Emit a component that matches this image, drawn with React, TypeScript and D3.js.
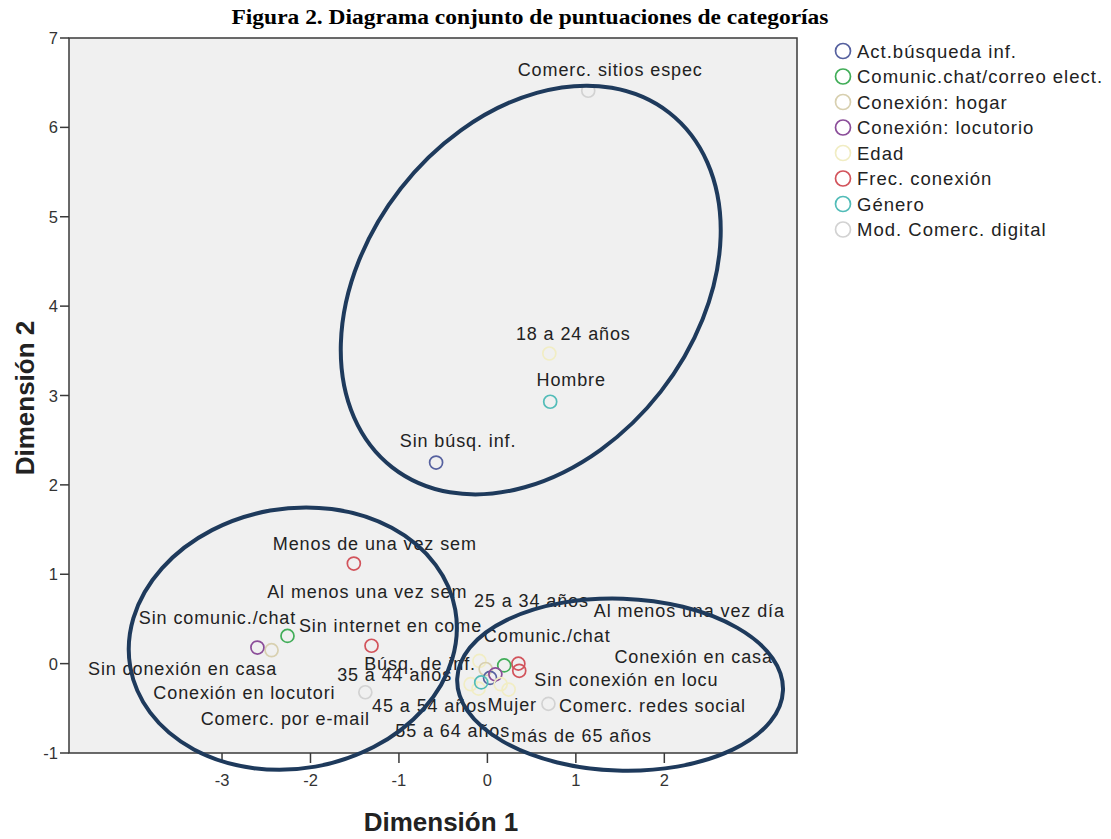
import * as d3 from 'd3';

// legend groups (variables)
const groups = [
  'Act.búsqueda inf.',
  'Comunic.chat/correo elect.',
  'Conexión: hogar',
  'Conexión: locutorio',
  'Edad',
  'Frec. conexión',
  'Género',
  'Mod. Comerc. digital',
];

// category points
const categories = [
  'Comerc. sitios espec', '18 a 24 años', 'Hombre', 'Sin búsq. inf.',
  'Menos de una vez sem', 'Al menos una vez sem', '25 a 34 años', 'Al menos una vez día',
  'Sin comunic./chat', 'Sin internet en come', 'Comunic./chat', 'Conexión en casa',
  'Búsq. de inf.', 'Sin conexión en casa', '35 a 44 años', 'Sin conexión en locu',
  'Conexión en locutori', '45 a 54 años', 'Mujer', 'Comerc. redes social',
  'Comerc. por e-mail', '55 a 64 años', 'más de 65 años',
];
const categoryGroup = [
  7, 4, 6, 0,
  5, 5, 4, 5,
  1, 5, 1, 2,
  0, 2, 4, 3,
  3, 4, 6, 7,
  7, 4, 4,
];
const dim1 = [
  1.14, 0.70, 0.71, -0.58,
  -1.51, 0.36, -0.09, 0.35,
  -2.26, -1.31, 0.19, -0.02,
  0.03, -2.44, -0.19, 0.09,
  -2.60, -0.10, -0.07, 0.69,
  -1.38, 0.15, 0.24,
];
const dim2 = [
  6.41, 3.47, 2.93, 2.25,
  1.12, -0.08, 0.03, 0.0,
  0.31, 0.2, -0.02, -0.06,
  -0.16, 0.15, -0.23, -0.12,
  0.18, -0.28, -0.21, -0.45,
  -0.32, -0.23, -0.29,
];

const xTicks = [-3, -2, -1, 0, 1, 2];
const yTicks = [-1, 0, 1, 2, 3, 4, 5, 6, 7];

// styles
const groupColors = ['#56619f', '#41ad58', '#d8d0b0', '#8b4d99', '#f1edc4', '#d2535b', '#52bcb8', '#d2d2d2'];

// label placement (pixel offsets from the point, SPSS style)
const labelOffset: Record<string, [number, number]> = {
  'Comerc. sitios espec': [22, -15],
  '18 a 24 años': [24, -13],
  'Hombre': [21, -16],
  'Sin búsq. inf.': [22, -16],
  'Menos de una vez sem': [21, -14],
  'Al menos una vez sem': [-152, -73],
  '25 a 34 años': [52, -54],
  'Al menos una vez día': [171, -47],
  'Sin comunic./chat': [-70, -12],
  'Sin internet en come': [19, -14],
  'Comunic./chat': [43, -23],
  'Conexión en casa': [208, -6],
  'Búsq. de inf.': [-70, -8],
  'Sin conexión en casa': [-89, 25],
  '35 a 44 años': [-76, -3],
  'Sin conexión en locu': [131, 12],
  'Conexión en locutori': [-13, 51],
  '45 a 54 años': [-49, 23],
  'Mujer': [31, 29],
  'Comerc. redes social': [104, 8],
  'Comerc. por e-mail': [-80, 33],
  '55 a 64 años': [-48, 53],
  'más de 65 años': [73, 52],
};

// hand-drawn ellipses (center in data units, radii in px, rotation deg)
const ellipses = [
  { cx: 0.49, cy: 4.18, rx: 225, ry: 165, rot: -52 },
  { cx: -2.2, cy: 0.28, rx: 165, ry: 130, rot: -10 },
  { cx: 1.5, cy: -0.235, rx: 163, ry: 86, rot: 2 },
];

const W = 1111;
const H = 839;
const left = 69;
const right = 797;
const top = 38;
const bottom = 753;
const sans = '"Liberation Sans", Arial, sans-serif';

export default function App() {
  const x = d3.scaleLinear().domain([-4.73, 3.5]).range([left, right]);
  const y = d3.scaleLinear().domain([-1, 7]).range([bottom, top]);

  const pts = categories.map((name, i) => ({
    name,
    g: categoryGroup[i],
    px: x(dim1[i]),
    py: y(dim2[i]),
  }));

  return (
    <svg width={W} height={H} style={{ position: 'absolute', left: 0, top: 0, background: '#fff' }}>
      <text
        x={530}
        y={24}
        textAnchor="middle"
        fontFamily='"Liberation Serif", "Times New Roman", serif'
        fontWeight="bold"
        fontSize={20}
        textLength={597}
        lengthAdjust="spacingAndGlyphs"
      >
        Figura 2. Diagrama conjunto de puntuaciones de categorías
      </text>

      <rect x={left} y={top} width={right - left} height={bottom - top} fill="#f0f0f0" stroke="#3a3a3a" strokeWidth={1.5} />

      {/* y axis */}
      {yTicks.map((t) => (
        <g key={'y' + t}>
          <line x1={left - 9} x2={left} y1={y(t)} y2={y(t)} stroke="#3a3a3a" strokeWidth={1.5} />
          <text x={left - 11} y={y(t) + 6} textAnchor="end" fontFamily={sans} fontSize={16.5} fill="#333">
            {t}
          </text>
        </g>
      ))}
      {/* x axis */}
      {xTicks.map((t) => (
        <g key={'x' + t}>
          <line x1={x(t)} x2={x(t)} y1={bottom} y2={bottom + 10} stroke="#3a3a3a" strokeWidth={1.5} />
          <text x={x(t)} y={bottom + 33} textAnchor="middle" fontFamily={sans} fontSize={16.5} fill="#333">
            {t}
          </text>
        </g>
      ))}

      <text x={441} y={831} textAnchor="middle" fontFamily={sans} fontWeight="bold" fontSize={26} fill="#222">
        Dimensión 1
      </text>
      <text
        transform={`translate(34,398) rotate(-90)`}
        textAnchor="middle"
        fontFamily={sans}
        fontWeight="bold"
        fontSize={26}
        fill="#222"
      >
        Dimensión 2
      </text>

      {/* points */}
      {pts.map((p) => (
        <circle key={'c' + p.name} cx={p.px} cy={p.py} r={6.5} fill="none" stroke={groupColors[p.g]} strokeWidth={1.7} />
      ))}
      {/* labels */}
      {pts.map((p) => {
        const [dx, dy] = labelOffset[p.name];
        return (
          <text
            key={'t' + p.name}
            x={p.px + dx}
            y={p.py + dy}
            textAnchor="middle"
            fontFamily={sans}
            fontSize={18}
            letterSpacing={0.9}
            fill="#222"
          >
            {p.name}
          </text>
        );
      })}

      {/* annotation ellipses */}
      {ellipses.map((e, i) => (
        <ellipse
          key={'e' + i}
          rx={e.rx}
          ry={e.ry}
          transform={`translate(${x(e.cx)},${y(e.cy)}) rotate(${e.rot})`}
          fill="none"
          stroke="#1e3a5c"
          strokeWidth={4}
        />
      ))}

      {/* legend */}
      {groups.map((gName, i) => (
        <g key={'l' + gName} transform={`translate(843,${51 + i * 25.5})`}>
          <circle r={7.5} fill="none" stroke={groupColors[i]} strokeWidth={1.7} />
          <text x={14} y={6.5} fontFamily={sans} fontSize={18.5} letterSpacing={1} fill="#222">
            {gName}
          </text>
        </g>
      ))}
    </svg>
  );
}
